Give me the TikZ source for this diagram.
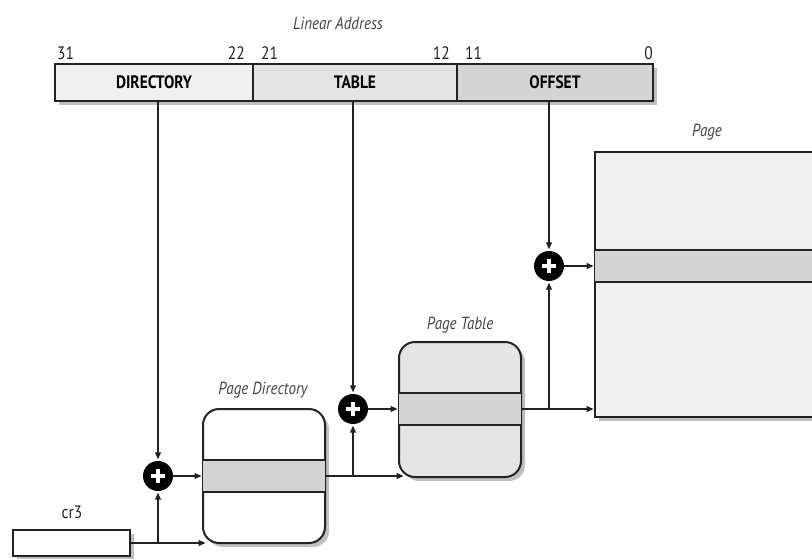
\documentclass[tikz,border=0pt]{standalone}
\usepackage{fontspec}
\setmainfont{PT Sans}[FakeStretch=0.86]
\usetikzlibrary{arrows.meta,shadows}
\definecolor{fa}{HTML}{F0F0F0}
\definecolor{fb}{HTML}{E4E4E4}
\definecolor{fc}{HTML}{D4D4D4}
\definecolor{ln}{HTML}{222222}
\tikzset{
  box/.style={draw=ln,line width=2pt,inner sep=0pt,outer sep=0pt,anchor=north west},
  shad/.style={drop shadow={shadow xshift=4pt,shadow yshift=-4pt,opacity=0.25,fill=black}},
  field/.style={box,minimum height=37pt,font=\bfseries\fontsize{18}{20}\selectfont},
  lbl/.style={font=\itshape\fontsize{17.5}{19}\selectfont,text=ln!85,inner sep=0pt},
  num/.style={font=\fontsize{18}{20}\selectfont,text=ln,inner sep=0pt},
  stripe/.style={fill=fc,inner sep=0pt,outer sep=0pt,anchor=north west,minimum height=33pt},
  sline/.style={draw=ln,line width=2pt},
  plus/.style={circle,fill=black,minimum size=30pt,inner sep=0pt,path picture={
     \draw[white,line width=4.5pt] ([xshift=-7pt]path picture bounding box.center) -- ([xshift=7pt]path picture bounding box.center);
     \draw[white,line width=4.5pt] ([yshift=-7pt]path picture bounding box.center) -- ([yshift=7pt]path picture bounding box.center);}},
  conn/.style={line width=1.1pt,draw=ln,-{Triangle[length=7pt,width=6pt]},shorten >=1.5pt},
  wire/.style={line width=1.1pt,draw=ln},
}
\begin{document}
\begin{tikzpicture}[x=1pt,y=-1pt]
\useasboundingbox (0,0) rectangle (812,558);
% linear address
\node[lbl] (la) at (338,23) {Linear Address};
\node[field,shad,fill=fa,minimum width=198pt] (dir) at (55,64) {DIRECTORY};
\node[field,shad,fill=fb,minimum width=204pt] (tab) at (253,64) {TABLE};
\node[field,shad,fill=fc,minimum width=196pt] (off) at (457,64) {OFFSET};
\node[num,anchor=base west] (n31) at (57,59) {31};
\node[num,anchor=base east] (n22) at (245,59) {22};
\node[num,anchor=base west] (n21) at (261,59) {21};
\node[num,anchor=base east] (n12) at (450,59) {12};
\node[num,anchor=base west] (n11) at (465,59) {11};
\node[num,anchor=base east] (n0) at (653,59) {0};
% page
\node[lbl] (pgl) at (707,132) {Page};
\node[box,shad,fill=fa,minimum width=240pt,minimum height=265pt] (pg) at (595,152) {};
\node[stripe,minimum width=240pt,minimum height=32pt] (pgs) at (595,250) {};
\draw[sline] (pgs.north west) -- (pgs.north east) (pgs.south west) -- (pgs.south east);
% page table
\node[lbl] (ptl) at (460,325) {Page Table};
\node[box,shad,fill=fb,rounded corners=16pt,minimum width=122pt,minimum height=135pt] (pt) at (399,342) {};
\node[stripe,minimum width=122pt,minimum height=32pt] (pts) at (399,393) {};
\draw[sline] (pts.north west) -- (pts.north east) (pts.south west) -- (pts.south east);
% page directory
\node[lbl] (pdl) at (263,390) {Page Directory};
\node[box,shad,fill=white,rounded corners=16pt,minimum width=122pt,minimum height=134pt] (pd) at (203,409) {};
\node[stripe,minimum width=122pt,minimum height=32pt] (pds) at (203,460) {};
\draw[sline] (pds.north west) -- (pds.north east) (pds.south west) -- (pds.south east);
% cr3
\node[num] (cr3l) at (72,512) {cr3};
\node[box,shad,fill=white,minimum width=117pt,minimum height=26pt] (cr3) at (13,530) {};
% adders
\node[plus] (p1) at (158,476) {};
\node[plus] (p2) at (353,409) {};
\node[plus] (p3) at (549,266) {};
% coordinates
\coordinate (d1) at (158,101);
\coordinate (t1) at (353,101);
\coordinate (o1) at (549,101);
\coordinate (j1) at (158,543);
\coordinate (pdb) at (207,543);
\coordinate (j2) at (353,476);
\coordinate (ptb) at (405,476);
\coordinate (j3) at (549,409);
% connectors
\draw[conn] (d1) -- (p1);
\draw[conn] (t1) -- (p2);
\draw[conn] (o1) -- (p3);
\draw[conn] (cr3.east) -- (pdb);
\draw[conn] (j1) -- (p1);
\draw[conn] (p1) -- (p1 -| pd.west);
\draw[conn] (pds.east) -- (ptb);
\draw[conn] (j2) -- (p2);
\draw[conn] (p2) -- (p2 -| pt.west);
\draw[conn] (pts.east) -- (pts.east -| pg.west);
\draw[conn] (j3) -- (p3);
\draw[conn] (p3) -- (p3 -| pg.west);
\end{tikzpicture}
\end{document}
